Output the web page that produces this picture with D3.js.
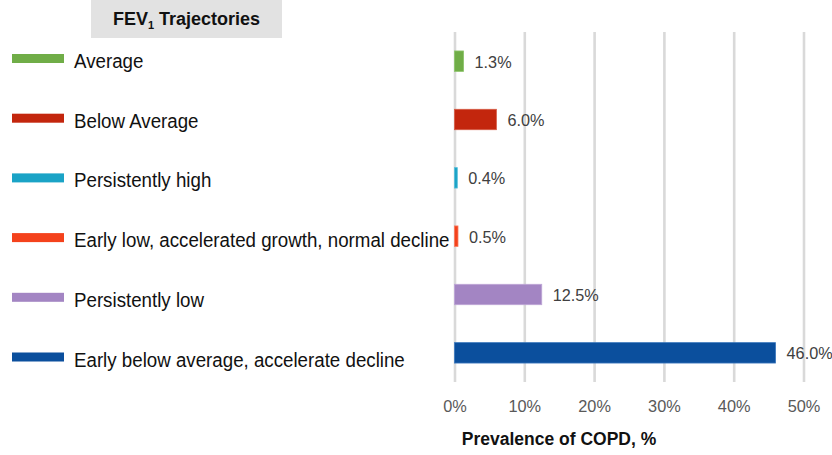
<!DOCTYPE html>
<html>
<head>
<meta charset="utf-8">
<script src="https://cdn.jsdelivr.net/npm/d3@7/dist/d3.min.js"></script>
<style>
  html, body { margin: 0; padding: 0; background: #fff; }
  svg { display: block; font-family: "Liberation Sans", Arial, sans-serif; }
</style>
</head>
<body>
<svg id="chart" width="832" height="455"></svg>
<script>
const categories = [
  "Average",
  "Below Average",
  "Persistently high",
  "Early low, accelerated growth, normal decline",
  "Persistently low",
  "Early below average, accelerate decline"
];
const values = [1.3, 6.0, 0.4, 0.5, 12.5, 46.0];
const colors = ["#70ad47", "#c3260d", "#1aa3c6", "#f4421c", "#a385c3", "#0b4f9d"];
const strokes = ["#8cc46a", "#d65a45", "#55bdd9", "#f77a5e", "#bea6d6", "#3c79bd"];
const xTicks = [0, 10, 20, 30, 40, 50];

const svg = d3.select("#chart");

const x = d3.scaleLinear().domain([0, 50]).range([454.5, 803.5]);
const y = d3.scaleBand().domain(categories).range([32, 382]).paddingInner(0.65).paddingOuter(0.325);
const yLegend = d3.scalePoint().domain(categories).range([58.5, 357]);

// condense text slightly (reference font is a bit taller / narrower)
function condense(sel, factor) {
  sel.each(function () {
    const w = this.getComputedTextLength();
    d3.select(this).attr("textLength", w * factor).attr("lengthAdjust", "spacingAndGlyphs");
  });
}

// gridlines + tick labels
const axis = d3.axisBottom(x)
  .tickValues(xTicks)
  .tickFormat(d => d + "%")
  .tickSize(-(382 - 32))
  .tickSizeOuter(0)
  .tickPadding(18);

const gAxis = svg.append("g").attr("transform", "translate(0,382)").call(axis);
gAxis.select(".domain").remove();
gAxis.selectAll(".tick line").attr("stroke", "#d9d9d9").attr("stroke-width", 2.6);
gAxis.selectAll(".tick text")
  .attr("fill", "#595959")
  .style("font-size", "17px")
  .style("font-family", "'Liberation Sans', Arial, sans-serif")
  .call(condense, 0.96);

// bars
svg.append("g").selectAll("rect")
  .data(categories)
  .join("rect")
  .attr("x", x(0))
  .attr("y", d => y(d))
  .attr("width", (d, i) => Math.max(x(values[i]) - x(0), 2.5))
  .attr("height", y.bandwidth())
  .attr("fill", (d, i) => colors[i])
  .attr("stroke", (d, i) => strokes[i])
  .attr("stroke-width", 0.8);

// value labels
svg.append("g").selectAll("text")
  .data(categories)
  .join("text")
  .attr("x", (d, i) => x(values[i]) + 11)
  .attr("y", d => y(d) + y.bandwidth() / 2)
  .attr("dy", "0.38em")
  .attr("fill", "#404040")
  .style("font-size", "17px")
  .text((d, i) => values[i].toFixed(1) + "%")
  .call(condense, 0.955);

// legend
const leg = svg.append("g").selectAll("g")
  .data(categories)
  .join("g")
  .attr("transform", d => `translate(0,${yLegend(d)})`);
leg.append("rect")
  .attr("x", 12).attr("y", -4.5)
  .attr("width", 52).attr("height", 9)
  .attr("fill", (d, i) => colors[i]);
leg.append("text")
  .attr("x", 74).attr("y", 9.5)
  .attr("fill", "#111")
  .style("font-size", "19.6px")
  .text(d => d)
  .call(condense, 0.955);

// title box
svg.append("rect")
  .attr("x", 91).attr("y", 0)
  .attr("width", 191).attr("height", 38)
  .attr("fill", "#e2e2e2");
const title = svg.append("text")
  .attr("x", 186.5).attr("y", 25)
  .attr("text-anchor", "middle")
  .attr("fill", "#111")
  .style("font-size", "18px")
  .style("font-weight", "bold");
title.append("tspan").text("FEV");
title.append("tspan").attr("dy", 4).style("font-size", "11px").text("1");
title.append("tspan").attr("dy", -4).text(" Trajectories");

// axis title
svg.append("text")
  .attr("x", 559).attr("y", 445)
  .attr("text-anchor", "middle")
  .attr("fill", "#111")
  .style("font-size", "17.5px")
  .style("font-weight", "bold")
  .text("Prevalence of COPD, %");
</script>
</body>
</html>
